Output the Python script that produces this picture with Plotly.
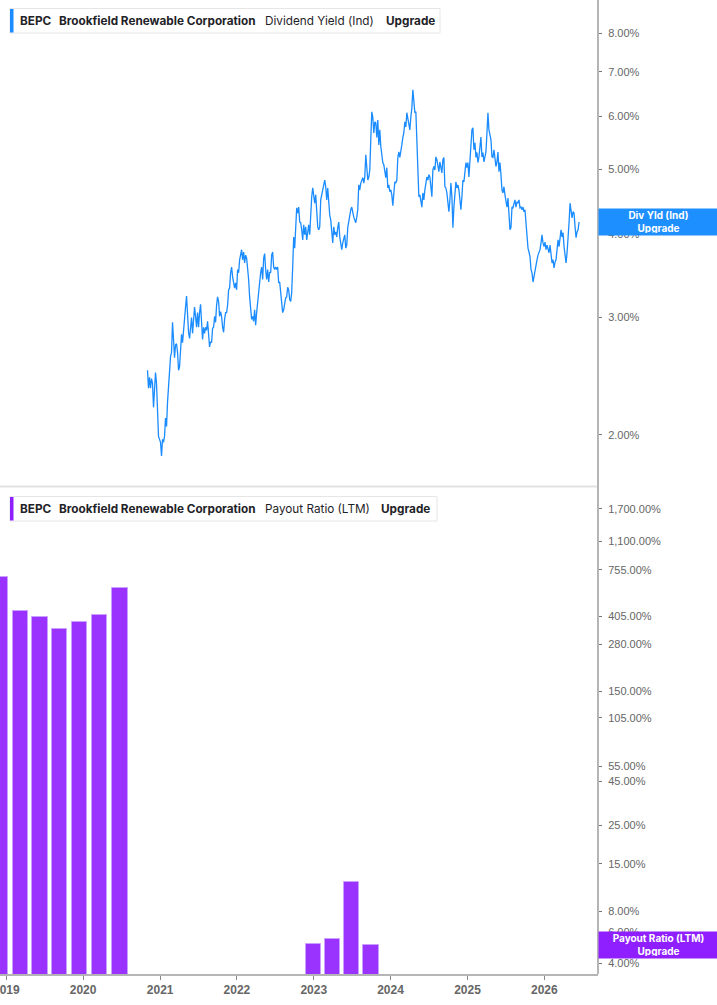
import numpy as np
import pandas as pd
import plotly.graph_objects as go

# ---------------- data ----------------
yield_start = "2020-11-02"
yield_end = "2026-06-15"
div_yield = [
    2.50, 2.35, 2.44, 2.35, 2.43, 2.39, 2.20, 2.36, 2.48, 2.39,
    2.13, 1.99, 1.97, 1.95, 1.86, 1.97, 1.95, 1.99, 2.12, 2.06,
    2.24, 2.39, 2.50, 2.62, 2.66, 2.95, 2.78, 2.61, 2.73, 2.74,
    2.66, 2.50, 2.53, 2.66, 2.83, 2.75, 2.90, 3.05, 3.11, 3.23,
    3.01, 2.85, 2.79, 2.87, 3.00, 2.84, 2.95, 3.11, 3.01, 2.90,
    3.05, 2.90, 3.05, 3.14, 2.95, 2.78, 2.90, 2.84, 2.90, 2.87,
    2.96, 2.80, 2.71, 2.76, 2.75, 2.89, 2.90, 3.01, 2.95, 3.13,
    3.22, 3.17, 3.01, 3.06, 3.01, 2.90, 2.85, 2.98, 3.05, 3.05,
    3.13, 3.30, 3.32, 3.50, 3.57, 3.45, 3.36, 3.32, 3.38, 3.30,
    3.54, 3.50, 3.66, 3.72, 3.79, 3.66, 3.76, 3.62, 3.72, 3.68,
    3.57, 3.42, 3.22, 3.05, 2.98, 3.01, 2.96, 3.08, 2.92, 3.05,
    3.17, 3.30, 3.38, 3.50, 3.57, 3.42, 3.68, 3.74, 3.54, 3.42,
    3.54, 3.39, 3.51, 3.50, 3.72, 3.76, 3.57, 3.54, 3.57, 3.54,
    3.57, 3.38, 3.39, 3.27, 3.16, 3.05, 3.08, 3.17, 3.21, 3.22,
    3.33, 3.30, 3.19, 3.17, 3.27, 3.57, 3.96, 3.81, 4.02, 4.38,
    4.30, 4.39, 4.17,
    4.16, 4.06, 3.92, 4.13, 3.99, 4.10, 3.92, 4.02, 4.13, 3.99,
    4.30, 4.55, 4.69, 4.58, 4.45, 4.58, 4.24, 4.10, 4.06, 4.10,
    4.50, 4.58, 4.61, 4.71, 4.82, 4.71, 4.50, 4.69, 4.39, 4.27,
    4.20, 4.02, 3.88, 4.10, 3.99, 4.03, 3.96, 4.09, 4.17, 3.96,
    3.83, 3.79, 3.88, 3.96, 3.99, 3.81, 3.85, 4.09, 4.20, 4.24,
    4.35, 4.39, 4.30, 4.24, 4.20, 4.16, 4.24, 4.35, 4.74, 4.66,
    4.77, 4.82, 4.86, 4.77, 4.87, 5.26, 5.03, 4.82, 4.87, 4.99,
    5.54, 6.10, 5.99, 5.67, 5.89, 5.87, 5.58, 5.93, 5.44, 5.73,
    5.41, 5.21, 5.12, 5.08, 4.99, 4.86, 5.03, 4.69, 4.74, 4.63,
    4.66, 4.58, 4.41, 4.71, 4.79, 4.77, 4.82, 5.21, 5.31, 5.21,
    5.39, 5.44, 5.58, 5.67, 5.89, 5.79, 6.08, 5.97, 5.89, 5.73,
    5.99, 6.18, 6.58, 6.36, 6.08, 6.10, 5.41, 4.77, 4.55, 4.58,
    4.50, 4.39, 4.61, 4.50, 4.66, 4.77, 4.87, 4.82, 4.91, 4.87,
    4.71, 4.55, 4.99, 5.05, 4.99, 5.22, 5.17, 5.08, 4.96,
    5.13, 5.03, 4.94, 5.17, 5.21, 4.71, 4.69, 4.61, 4.47, 4.32,
    4.50, 4.77, 4.55, 4.09, 4.39, 4.61, 4.79, 4.69, 4.74, 4.66,
    4.50, 4.35, 4.55, 4.82, 4.79, 4.96, 5.12, 5.03, 5.12, 4.87,
    5.21, 5.54, 5.73, 5.77, 5.35, 5.48, 5.21, 5.30, 5.12, 5.22,
    5.48, 5.59, 5.22, 5.30, 5.13, 5.22, 5.31, 5.67, 6.08, 5.73,
    5.59, 5.54, 5.22, 5.21, 5.35, 5.22, 5.05, 5.13, 5.31, 4.96,
    5.12, 4.91, 4.66, 4.61, 4.71, 4.58, 4.50, 4.39, 4.53, 4.24,
    4.06, 4.09, 4.39, 4.38, 4.45, 4.50, 4.39, 4.47, 4.45, 4.50,
    4.38, 4.39, 4.35, 4.39, 4.32, 4.35, 4.16, 3.96, 3.81, 3.76,
    3.70, 3.54, 3.50, 3.39, 3.47, 3.54, 3.62, 3.66, 3.72, 3.76,
    3.79, 3.88, 3.99, 3.88, 3.83, 3.89, 3.79, 3.85, 3.79, 3.75,
    3.85, 3.75, 3.62, 3.66, 3.56, 3.63, 3.66, 3.79, 3.92, 3.83,
    3.96, 4.06, 3.96, 4.02, 3.83, 3.70, 3.62, 3.75, 3.92, 4.16,
    4.45, 4.30, 4.23, 4.32, 4.30, 4.10, 3.95, 4.03, 4.06, 4.17,
]

payout_dates = ["2018-12-05", "2019-03-08", "2019-06-10", "2019-09-12",
                "2019-12-16", "2020-03-20", "2020-06-24",
                "2022-12-31", "2023-03-31", "2023-06-30", "2023-09-30"]
payout_ratio = [686, 436, 402, 343, 376, 413, 593, 5.15, 5.49, 11.8, 5.08]

yield_ticks = [2, 3, 4, 5, 6, 7, 8]
payout_ticks = [4, 6, 8, 15, 25, 45, 55, 105, 150, 280, 405, 755, 1100, 1700]
year_ticks = [2019, 2020, 2021, 2022, 2023, 2024, 2025, 2026]

# ---------------- style ----------------
W, H = 717, 1005
ML, MR, MT, MB = 0, 119, 0, 31
PW, PH = W - ML - MR, H - MT - MB
BLUE = "#1a8cff"
PURPLE = "#9b33ff"
AXIS_GREY = "#b5b5b5"
TICK_FONT = dict(family="Liberation Sans, Arial, sans-serif", size=11, color="#666666")
XTICK_FONT = dict(family="Liberation Sans, Arial, sans-serif", size=12,
                  color="#666666", weight="bold")
LEG_FONT = "Inter, Roboto, sans-serif"


def px(x):
    return x / PW


def py(y):
    return 1 - y / PH


dates = pd.date_range(yield_start, yield_end, periods=len(div_yield))

fig = go.Figure()
fig.add_trace(go.Scatter(x=dates, y=div_yield, mode="lines",
                         line=dict(color=BLUE, width=1.3),
                         xaxis="x2", yaxis="y", showlegend=False))
fig.add_trace(go.Bar(x=pd.to_datetime(payout_dates), y=payout_ratio,
                     width=[72 * 86400000] * len(payout_ratio),
                     marker=dict(color=PURPLE, line=dict(color="#c9a0ff", width=1)),
                     xaxis="x", yaxis="y2", showlegend=False))

xrange = ["2018-12-02", "2026-09-13"]
top_dom = [py(486.5) + 0.0005, 1]
bot_dom = [0, py(490)]

axis_common = dict(type="log", side="right", showgrid=False, zeroline=False,
                   showline=False, ticks="outside", ticklen=3, tickwidth=1,
                   tickcolor="#777777", tickfont=TICK_FONT, ticklabelstandoff=4,
                   automargin=False)

fig.update_layout(
    width=W, height=H,
    margin=dict(l=ML, r=MR, t=MT, b=MB, autoexpand=False),
    paper_bgcolor="white", plot_bgcolor="white",
    bargap=0,
    xaxis=dict(domain=[0, 1], anchor="y2", type="date", range=xrange,
               tickvals=[f"{y}-01-01" for y in year_ticks],
               ticktext=[str(y) for y in year_ticks],
               tickfont=XTICK_FONT,
               ticklabeloverflow="allow", automargin=False,
               ticks="outside", ticklen=4, tickcolor="#888888",
               showline=True, linecolor=AXIS_GREY, linewidth=2,
               showgrid=False, zeroline=False),
    xaxis2=dict(domain=[0, 1], anchor="y", matches="x", type="date",
                showticklabels=False, showline=False, showgrid=False,
                zeroline=False, ticks="", automargin=False),
    yaxis=dict(domain=top_dom, anchor="x2",
               range=[np.log10(1.677), np.log10(8.97)],
               tickvals=yield_ticks,
               ticktext=[f"{v:,.2f}%" for v in yield_ticks],
               **axis_common),
    yaxis2=dict(domain=bot_dom, anchor="x",
                range=[np.log10(3.455), np.log10(2189)],
                tickvals=payout_ticks,
                ticktext=[f"{v:,.2f}%" for v in payout_ticks],
                **axis_common),
)

shapes = []
# separator between panels
shapes.append(dict(type="line", xref="paper", yref="paper", x0=0, x1=1,
                   y0=py(486.5), y1=py(486.5), line=dict(color="#e2e2e2", width=2)))
# right axis line spanning both panels
shapes.append(dict(type="line", xref="paper", yref="paper", x0=1, x1=1,
                   y0=0, y1=1, line=dict(color=AXIS_GREY, width=2)))

annotations = []


def legend_box(top, bottom, right, color, items):
    shapes.append(dict(type="rect", xref="paper", yref="paper",
                       x0=px(10), x1=px(right), y0=py(bottom), y1=py(top),
                       fillcolor="white", line=dict(color="#e6e6e6", width=1)))
    shapes.append(dict(type="rect", xref="paper", yref="paper",
                       x0=px(10), x1=px(13.5), y0=py(bottom - 0.5), y1=py(top + 0.5),
                       fillcolor=color, line=dict(width=0)))
    yc = py((top + bottom) / 2)
    for xpos, txt, bold in items:
        annotations.append(dict(xref="paper", yref="paper", x=px(xpos), y=yc,
                                xanchor="left", yanchor="middle", showarrow=False,
                                text=f"<b>{txt}</b>" if bold else txt,
                                font=dict(family=LEG_FONT, size=11.75, color="#1f2328")))


legend_box(8.5, 33, 440, BLUE, [(18.3, "BEPC", True),
                                (57.2, "Brookfield Renewable Corporation", True),
                                (262.5, "Dividend Yield (Ind)", False),
                                (383.5, "Upgrade", True)])
legend_box(496.5, 521, 437, "#8f1fff", [(18.3, "BEPC", True),
                                        (57.2, "Brookfield Renewable Corporation", True),
                                        (262.5, "Payout Ratio (LTM)", False),
                                        (379.2, "Upgrade", True)])

# value tags on the right axis
annotations.append(dict(xref="paper", yref="y", x=1, y=np.log10(div_yield[-1]),
                        xanchor="left", yanchor="middle", showarrow=False,
                        text="<b>Div Yld (Ind)</b><br><b>Upgrade</b>",
                        font=dict(family=LEG_FONT, size=10, color="white"),
                        bgcolor="#1e8fff", width=115, height=22, borderpad=2,
                        align="center"))
annotations.append(dict(xref="paper", yref="y2", x=1, y=np.log10(payout_ratio[-1]),
                        xanchor="left", yanchor="middle", showarrow=False,
                        text="<b>Payout Ratio (LTM)</b><br><b>Upgrade</b>",
                        font=dict(family=LEG_FONT, size=10, color="white"),
                        bgcolor="#8f1fff", width=115, height=22, borderpad=2,
                        align="center"))

fig.update_layout(shapes=shapes, annotations=annotations)
fig.write_html("out.html")
